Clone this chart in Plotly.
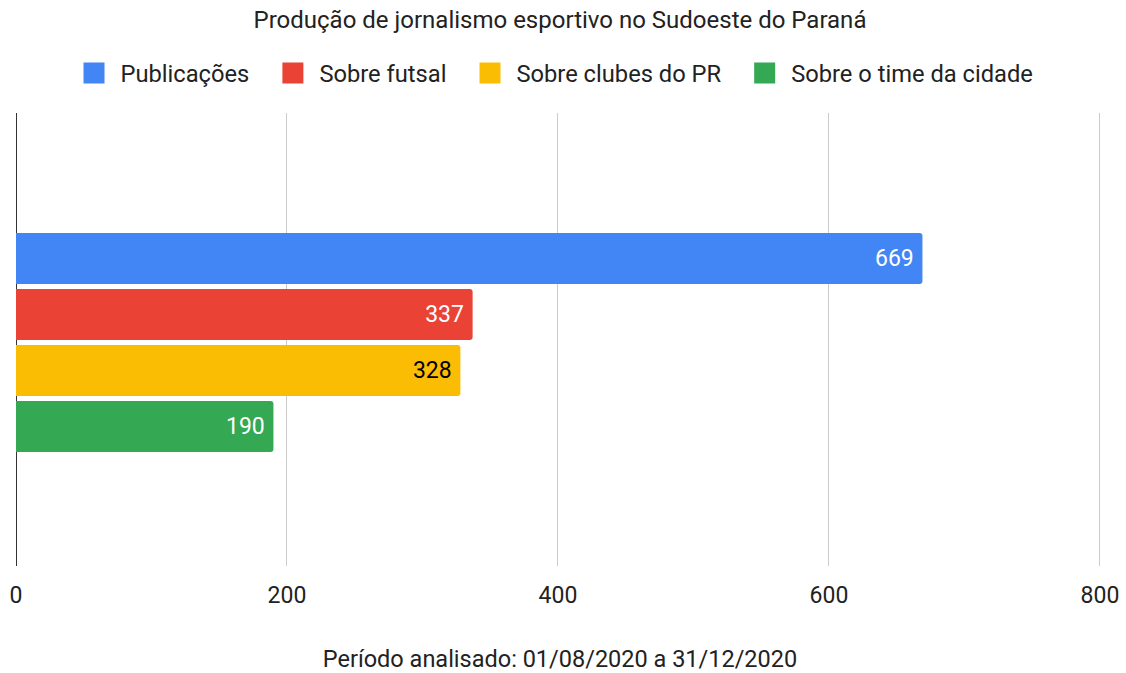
import plotly.graph_objects as go

title = "Produção de jornalismo esportivo no Sudoeste do Paraná"
series = ["Publicações", "Sobre futsal", "Sobre clubes do PR", "Sobre o time da cidade"]
values = [669, 337, 328, 190]
colors = ["#4285F4", "#EA4335", "#FBBC04", "#34A853"]
text_colors = ["#ffffff", "#ffffff", "#000000", "#ffffff"]
category = [""]
x_ticks = [0, 200, 400, 600, 800]
x_title = "Período analisado: 01/08/2020 a 31/12/2020"

FONT = "Roboto"
TXT = "#222222"

fig = go.Figure()
for name, v, c, tc in zip(series, values, colors, text_colors):
    fig.add_trace(go.Bar(
        x=[v], y=category, name=name, orientation="h", legendgroup=name,
        showlegend=False,
        marker=dict(color=c, line=dict(width=0)),
        text=[f"{v} "], textposition="inside", insidetextanchor="end",
        textfont=dict(color=tc, size=23, family=FONT),
        cliponaxis=False,
    ))
for i, (name, c) in enumerate(zip(series, colors)):
    label = name + ("\u2002" if i < len(series) - 1 else "")
    fig.add_trace(go.Scatter(
        x=[None], y=[None], mode="markers", name=label, legendgroup=name,
        marker=dict(symbol="square", size=16, color=c, line=dict(color=c, width=8)),
        showlegend=True,
    ))

fig.update_layout(
    width=1126, height=673,
    paper_bgcolor="white", plot_bgcolor="white",
    font=dict(family=FONT, color=TXT),
    title=dict(text=title, x=0.5, xref="paper", xanchor="center", y=1 - 20 / 673, yref="container",
               yanchor="middle", font=dict(size=24, color=TXT, family=FONT)),
    legend=dict(orientation="h", x=0.5 - 7 / 1088, xanchor="center", y=1 + (113 - 73) / 453,
                yanchor="middle",
                font=dict(size=23.7, color=TXT, family=FONT),
                traceorder="normal", itemwidth=43),
    margin=dict(l=16, r=22, t=113, b=107, autoexpand=False),
    barmode="group", bargap=0.5055, bargroupgap=0.089,
    barcornerradius=3,
    uniformtext=dict(minsize=8, mode="show"),
    showlegend=True,
)
fig.update_xaxes(
    range=[0, 803], tickvals=x_ticks, ticktext=[str(t) for t in x_ticks],
    showgrid=True, gridcolor="#cccccc", gridwidth=1,
    zeroline=True, zerolinecolor="#333333", zerolinewidth=1,
    showline=False, ticks="", ticklen=0, ticklabelstandoff=13,
    automargin=False,
    tickfont=dict(size=23, color=TXT, family=FONT),
    title=dict(text=x_title, font=dict(size=23.5, color=TXT, family=FONT), standoff=48),
)
fig.update_yaxes(range=[0.4934, -0.5066], showticklabels=False, showgrid=False,
                 zeroline=False, showline=False, ticks="", automargin=False)

fig.write_html("out.html", config={"displayModeBar": False},
               post_script="document.body.style.margin='0px';")
